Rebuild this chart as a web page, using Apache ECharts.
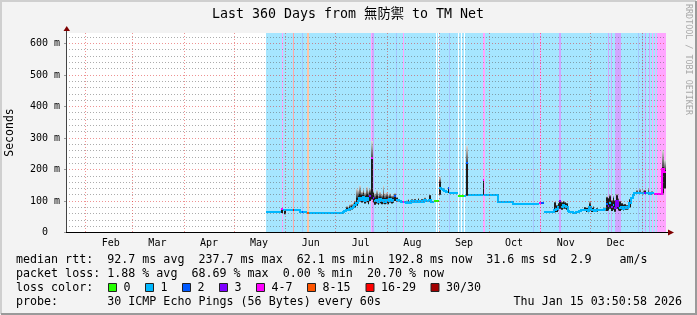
<!DOCTYPE html>
<html><head><meta charset="utf-8">
<script src="https://cdn.jsdelivr.net/npm/echarts@6/dist/echarts.min.js"></script>
<style>html,body{margin:0;padding:0;background:#f3f3f3}#c{width:697px;height:315px}</style>
</head><body><div id="c"></div>
<script>
// ---------- time frame ----------
const DAY_MS = 86400000;
const START = new Date(2025, 0, 20, 3, 50, 58).getTime();
const END = new Date(2026, 0, 15, 3, 50, 58).getTime();
const tOf = d => START + d * DAY_MS;

// ---------- axes ----------
const monthStarts = ['2025-02-01','2025-03-01','2025-04-01','2025-05-01','2025-06-01','2025-07-01','2025-08-01','2025-09-01','2025-10-01','2025-11-01','2025-12-01','2026-01-01'];
const monthLabelDates = ['2025-02-16','2025-03-16','2025-04-16','2025-05-16','2025-06-16','2025-07-16','2025-08-16','2025-09-16','2025-10-16','2025-11-16','2025-12-16'];
const monthLabels = ['Feb','Mar','Apr','May','Jun','Jul','Aug','Sep','Oct','Nov','Dec'];
const yTickValues = [0,100,200,300,400,500,600];
const yTickLabels = ['0\u00a0\u00a0','100 m','200 m','300 m','400 m','500 m','600 m'];
const yGridValues = [20,40,60,80,100,120,140,160,180,200,220,240,260,280,300,320,340,360,380,400,420,440,460,480,500,520,540,560,580,600,620];

// ---------- loss legend ----------
const lossLabels = ['0','1','2','3','4-7','8-15','16-29','30/30'];
const lossColors = ['#26ff00','#00b8ff','#0059ff','#7e00ff','#ff00ff','#ff5500','#ff0000','#a10000'];

// ---------- median rtt (day offset from start, ms, loss class) ----------
const medDay = [
  120,129,130,131,132,136,137,140.5,141.8,142.4,144.8,145.7,
  166,167,168,169,170,171,172,173,174,175,176,177,178,179,180,181,182,183,184,
  185,186,187,188,189,190,191,192,193,194,195,196,197,198,199,200,201,202,203,204,205,206,207,208,209,210,211,212,213,214,215,216,217,218,219,220,
  221,224,225,226,227,228,229,230,235,239,240,241,250,251,259,268,284,285,286.7,
  293,294,295,296,297,298,299,300,301,302,304,306,307,308,309,310,311,312,313,314,315,316,317,318,319,321,322,323,
  324,325,326,327,328,329,330,331,332,333,334,335,336,337,338,339,340,341,342,344,345,346,347,348,349,350,351,352.6,357.6,359
];
const medMs = [
  64,73,71,71,71,71,71,66,66,66,62,62,
  66,67,70,71,73,78,80,86,95,100,110,104,112,100,108,103,116,237,110,
  100,104,98,106,100,104,98,103,100,105,100,102,116,104,102,100,98,96,97,95,98,95,99,96,100,98,101,97,100,98,103,100,99,102,97,98,
  100,142,138,135,132,130,140,124,117,117,222,118,168,120,96,92,93,94,66,
  70,75,80,100,82,88,85,82,68,64,63,65,66,68,70,71,72,70,68,80,70,72,68,71,70,70,72,74,
  90,84,95,80,88,78,100,85,78,82,76,80,78,80,95,108,118,124,124,125,124,124,125,124,124,123,124,121,200,193
];
const medLoss = [
  1,4,1,1,1,6,1,1,2,1,5,1,
  1,1,1,1,1,1,1,1,1,1,1,1,1,1,1,1,3,4,3,
  1,1,1,1,1,1,1,1,1,1,1,1,2,1,1,1,1,4,1,1,1,1,1,1,1,1,1,1,1,1,1,1,1,1,1,1,
  0,1,1,1,1,1,2,1,0,1,2,1,4,1,1,1,4,2,1,
  1,1,1,3,1,1,1,1,1,1,1,1,1,1,1,1,1,1,1,1,1,1,1,1,1,1,1,1,
  2,3,1,3,1,3,3,3,1,1,1,1,1,1,1,1,1,1,1,1,1,1,3,1,1,1,1,4,4,4
];
// smoke: dense (dark) band low/high and sparse (grey) top, ms; null = no smoke
const smokeLo = [
  null,62,null,58,null,null,null,null,null,null,null,null,
  null,null,68,null,70,73,76,79,85,92,98,95,100,92,96,90,100,105,95,
  88,92,88,93,90,92,90,92,90,95,92,94,100,98,null,null,null,null,null,93,94,null,94,null,95,null,96,null,95,null,97,null,null,98,null,null,
  null,120,null,null,null,null,125,null,null,null,117,null,118,null,null,null,null,null,null,
  64,65,70,75,72,76,75,72,null,null,null,null,null,null,null,null,68,65,64,68,65,66,null,66,null,null,null,70,
  68,70,75,68,72,66,75,70,68,72,70,72,72,74,80,null,null,null,122,122,null,121,122,null,121,null,121,null,124,140
];
const smokeHi = [
  null,75,null,71,null,null,null,null,null,null,null,null,
  null,null,79,null,82,84,86,95,112,118,122,120,125,116,122,118,128,237,125,
  112,118,110,115,112,118,110,115,110,115,112,112,120,110,null,null,null,null,null,100,102,null,104,null,105,null,106,null,105,null,107,null,null,118,null,null,
  null,160,null,null,null,null,143,null,null,null,222,null,165,null,null,null,null,null,null,
  95,85,92,100,95,98,95,92,null,null,null,null,null,null,null,null,80,78,75,92,78,80,null,76,null,null,null,78,
  111,108,115,100,110,100,118,105,98,92,88,90,86,84,105,null,null,null,130,130,null,128,132,null,130,null,128,null,209,200
];
const smokeMax = [
  null,76,null,72,null,null,null,null,null,null,null,null,
  null,null,84,null,90,92,96,102,140,135,150,130,140,128,145,132,140,290,132,
  125,135,120,130,122,150,125,128,120,125,118,120,125,112,null,null,null,null,null,102,106,null,106,null,108,null,110,null,108,null,112,null,null,120,null,null,
  null,178,null,null,null,null,145,null,null,null,275,null,170,null,null,null,null,null,null,
  98,88,95,102,98,100,97,94,null,null,null,null,null,null,null,null,82,80,77,100,80,85,null,78,null,null,null,80,
  115,110,120,104,118,104,122,110,100,95,90,92,88,86,108,null,null,null,136,140,null,135,136,null,143,null,132,null,262,230
];

// ---------- loss background bands (day offsets, loss class) ----------
const bandStart = [120.1,129.5,136.1,141.8,144.8,182.9,183.5,197.8,202.1,222.0,223.1,229.6,235.4,237.0,238.8,250.0,280.3,284.3,295.9,325.2,326.7,329.3,343.2,345.3,347.2,349.8,351.3,353.3,354.3];
const bandEnd   = [360,130.1,136.7,142.4,145.7,183.5,184.9,198.4,202.7,222.6,223.7,230.2,236.0,237.6,239.4,251.6,280.9,284.9,297.1,325.8,327.3,332.7,343.8,345.9,347.8,350.4,351.9,353.9,360];
const bandLoss  = [1,4,6,2,5,4,3,2,4,0,0,2,0,0,0,4,2,4,3,3,3,3,2,2,3,3,4,4,4];

// ---------- text ----------
const titleText = 'Last 360 Days from 無防禦 to TM Net';
const rttFields = ['median rtt:  92.7 ms avg','237.7 ms max','62.1 ms min','192.8 ms now','31.6 ms sd','2.9    am/s'];
const lossFields = ['packet loss: 1.88 % avg','68.69 % max','0.00 % min','20.70 % now'];
const probeText = 'probe:       30 ICMP Echo Pings (56 Bytes) every 60s';
const stampText = 'Thu Jan 15 03:50:58 2026';

// ================= build =================
const FONT = '"DejaVu Sans Mono", "Noto Sans CJK TC", monospace';
const parseD = s => { const p = s.split('-').map(Number); return new Date(p[0], p[1]-1, p[2]).getTime(); };
const monthStartTimes = monthStarts.map(parseD);
const monthLabelTimes = monthLabelDates.map(parseD);
function mixWhite(hex, a) {
  const n = parseInt(hex.slice(1), 16);
  const r = (n >> 16) & 255, g = (n >> 8) & 255, b = n & 255;
  const f = c => Math.round(255 * (1 - a) + c * a);
  return 'rgb(' + f(r) + ',' + f(g) + ',' + f(b) + ')';
}
const bgColors = lossColors.map((c, i) => i === 0 ? '#ffffff' : mixWhite(c, 0.35));

const bandData = bandStart.map((s, i) => [tOf(s), tOf(bandEnd[i]), bandLoss[i]]);
const nextDay = medDay.map((d, i) => i < medDay.length - 1 ? medDay[i + 1] : 360);
const medianData = medDay.map((d, i) => {
  const last = i === medDay.length - 1;
  return [tOf(d), tOf(nextDay[i]), medMs[i], medLoss[i], last ? medMs[i] : medMs[i + 1], (!last && medLoss[i + 1] === medLoss[i]) ? 1 : 0];
});
const smokeData = [];
medDay.forEach((d, i) => { if (smokeHi[i] != null) smokeData.push([tOf(d), tOf(nextDay[i]), smokeLo[i], smokeHi[i], smokeMax[i]]); });

const chart = echarts.init(document.getElementById('c'), null, {renderer: 'canvas'});
const MAJOR = 'rgba(220,30,30,0.48)', MINOR = 'rgba(90,90,90,0.50)';

const graphics = [];
// frame
graphics.push({type:'polyline', z:20, shape:{points:[[1,314],[1,1],[696,1]]}, style:{stroke:'#cfcfcf', lineWidth:2, fill:null}});
graphics.push({type:'polyline', z:20, shape:{points:[[1,314],[696,314],[696,1]]}, style:{stroke:'#9a9a9a', lineWidth:2, fill:null}});
// arrows
graphics.push({type:'line', z:20, shape:{x1:66.5, y1:33, x2:66.5, y2:30}, style:{stroke:'#444', lineWidth:1}});
graphics.push({type:'polygon', z:20, shape:{points:[[63.5,31],[70,31],[66.75,26]]}, style:{fill:'#7f0000'}});
graphics.push({type:'line', z:20, shape:{x1:666, y1:232.5, x2:669, y2:232.5}, style:{stroke:'#000', lineWidth:1}});
graphics.push({type:'polygon', z:20, shape:{points:[[668,229.5],[668,235.5],[674,232.5]]}, style:{fill:'#7f0000'}});
// title / unit / watermark
graphics.push({type:'text', z:20, x:348, y:15, style:{text:titleText, font:'13.3px ' + FONT, fill:'#000', align:'center', verticalAlign:'middle'}});
graphics.push({type:'text', z:20, x:10, y:132.5, rotation:Math.PI/2, style:{text:'Seconds', font:'11.5px ' + FONT, fill:'#000', align:'center', verticalAlign:'middle'}});
graphics.push({type:'text', z:20, x:688.5, y:4, rotation:-Math.PI/2, style:{text:'RRDTOOL / TOBI OETIKER', font:'8.4px ' + FONT, fill:'#a8a8a8', align:'left', verticalAlign:'middle'}});
// legend rows (monospace, items separated by two blanks as rrdtool does)
const LF = '11.66px ' + FONT;
graphics.push({type:'text', z:20, x:16, y:259.5, style:{text:rttFields.join('  '), font:LF, fill:'#000', verticalAlign:'middle'}});
graphics.push({type:'text', z:20, x:16, y:273.5, style:{text:lossFields.join('  '), font:LF, fill:'#000', verticalAlign:'middle'}});
graphics.push({type:'text', z:20, x:16, y:287.5, style:{text:'loss color:', font:LF, fill:'#000', verticalAlign:'middle'}});
const swX = [108.5,145.5,182.5,219.5,256.5,307.5,366,431];
lossLabels.forEach((s, i) => {
  graphics.push({type:'rect', z:20, shape:{x:swX[i], y:283.5, width:8, height:8}, style:{fill:lossColors[i], stroke:'#222', lineWidth:1}});
  graphics.push({type:'text', z:20, x:swX[i] + 15, y:287.5, style:{text:s, font:LF, fill:'#000', verticalAlign:'middle'}});
});
graphics.push({type:'text', z:20, x:16, y:301.5, style:{text:probeText, font:LF, fill:'#000', verticalAlign:'middle'}});
graphics.push({type:'text', z:20, x:682, y:301.5, style:{text:stampText, font:LF, fill:'#000', align:'right', verticalAlign:'middle'}});

const smokeGrad = new echarts.graphic.LinearGradient(0, 0, 0, 1, [{offset:0, color:'#dcdcdc'}, {offset:1, color:'#4a4a4a'}]);

chart.setOption({
  animation: false,
  backgroundColor: '#f3f3f3',
  grid: {left: 66, top: 33, width: 600, height: 199.5, containLabel: false, show: true, backgroundColor: '#ffffff', borderWidth: 0},
  xAxis: {
    type: 'value', min: START, max: END, z: 6,
    axisLine: {show: true, lineStyle: {color: '#000', width: 1}},
    axisTick: {show: false, customValues: monthStartTimes},
    axisLabel: {
      customValues: monthLabelTimes, margin: 6, fontFamily: FONT, fontSize: 10, color: '#000',
      formatter: v => { const i = monthLabelTimes.indexOf(v); return i >= 0 ? monthLabels[i] : ''; }
    },
    splitLine: {show: true, lineStyle: {color: MAJOR, type: [1, 2], width: 1}}
  },
  yAxis: {
    type: 'value', min: 0, max: 633, interval: 100, z: 6,
    axisLine: {show: true, lineStyle: {color: '#444', width: 1}},
    axisTick: {show: true, length: 2, lineStyle: {color: '#999'}},
    axisLabel: {
      margin: 6, fontFamily: FONT, fontSize: 10, color: '#000', showMaxLabel: false,
      formatter: v => { const i = yTickValues.indexOf(v); return i >= 0 ? yTickLabels[i] : ''; }
    },
    splitLine: {show: false}
  },
  graphic: graphics,
  series: [
    {
      type: 'custom', z: 1, data: bandData, encode: {x: 0, y: 2}, silent: true,
      renderItem: (params, api) => {
        const cs = params.coordSys;
        const x0 = Math.round(api.coord([api.value(0), 0])[0]);
        let x1 = Math.round(api.coord([api.value(1), 0])[0]);
        if (x1 <= x0) x1 = x0 + 1;
        return {type: 'rect', shape: {x: x0, y: cs.y, width: x1 - x0, height: cs.height}, style: {fill: bgColors[api.value(2)]}};
      }
    },
    {
      type: 'custom', z: 2, data: smokeData, encode: {x: 0, y: 3}, silent: true,
      renderItem: (params, api) => {
        const t0 = api.value(0);
        const x0 = Math.round(api.coord([t0, 0])[0]);
        let x1 = Math.round(api.coord([api.value(1), 0])[0]);
        const w = Math.max(1, x1 - x0 - (x1 - x0 > 2 ? 1 : 0));
        const yLo = api.coord([t0, api.value(2)])[1];
        const yHi = api.coord([t0, api.value(3)])[1];
        const yMax = api.coord([t0, api.value(4)])[1];
        return {type: 'group', children: [
          {type: 'rect', shape: {x: x0, y: yMax, width: w, height: Math.max(0, yHi - yMax)}, style: {fill: smokeGrad}},
          {type: 'rect', shape: {x: x0, y: yHi, width: w, height: Math.max(1, yLo - yHi)}, style: {fill: '#1c1c1c'}}
        ]};
      },
      // horizontal grid: major every 100 m, minor every 20 m
      markLine: {
        silent: true, symbol: ['none', 'none'], label: {show: false}, animation: false,
        lineStyle: {type: [1, 2], width: 1, color: MINOR},
        emphasis: {disabled: true},
        data: yGridValues.map(v => ({yAxis: v, lineStyle: {color: v % 100 === 0 ? MAJOR : MINOR, type: [1, 2], width: 1}}))
      }
    },
    {
      type: 'custom', z: 3, data: medianData, encode: {x: 0, y: 2}, silent: true,
      renderItem: (params, api) => {
        const t0 = api.value(0);
        const x0 = Math.round(api.coord([t0, 0])[0]);
        let x1 = Math.round(api.coord([api.value(1), 0])[0]);
        if (x1 <= x0) x1 = x0 + 1;
        const y = Math.round(api.coord([t0, api.value(2)])[1]);
        const col = lossColors[api.value(3)];
        const kids = [{type: 'rect', shape: {x: x0, y: y - 1, width: x1 - x0, height: 2}, style: {fill: col}}];
        if (api.value(5) === 1) {
          const y2 = Math.round(api.coord([t0, api.value(4)])[1]);
          if (y2 !== y) kids.push({type: 'rect', shape: {x: x1 - 1, y: Math.min(y, y2) - 1, width: 2, height: Math.abs(y2 - y) + 2}, style: {fill: col}});
        }
        return {type: 'group', children: kids};
      }
    }
  ]
});
</script></body></html>
